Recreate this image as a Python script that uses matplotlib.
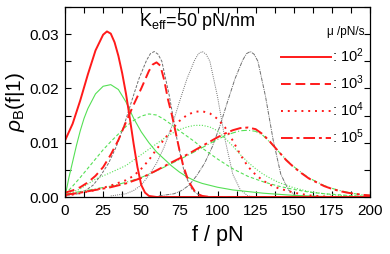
import matplotlib
matplotlib.use("Agg")
import matplotlib.pyplot as plt
from matplotlib.ticker import MultipleLocator

plt.rcParams["font.family"] = ["Liberation Sans", "DejaVu Sans"]
plt.rcParams["mathtext.fontset"] = "custom"
plt.rcParams["mathtext.rm"] = "Liberation Sans"
plt.rcParams["mathtext.it"] = "Liberation Sans:italic"

# force f (pN) and density values, per curve
# red: model curves for the four loading rates
f_red_1 = [0, 5, 10, 15, 20, 25, 27.5, 30, 32.5, 35, 37.5, 40, 42.5, 45, 47.5, 50, 52.5, 55, 57.5, 60, 200]
p_red_1 = [0.0104, 0.0135, 0.0178, 0.0226, 0.0270, 0.0299, 0.0305, 0.0301, 0.0285, 0.0260, 0.0228, 0.0190,
           0.0145, 0.0098, 0.0055, 0.0022, 0.0008, 0.0002, 0.0001, 0.0, 0.0]

f_red_2 = [0, 5, 10, 15, 20, 25, 30, 35, 40, 45, 50, 55, 57.5, 60, 62.5, 65, 67.5, 70, 72.5, 75, 77.5, 80,
           82.5, 85, 87.5, 90, 95, 200]
p_red_2 = [0.0008, 0.0012, 0.0018, 0.0027, 0.0039, 0.0055, 0.0078, 0.0105, 0.0138, 0.0170, 0.0200, 0.0232,
           0.0244, 0.0248, 0.0242, 0.0216, 0.0180, 0.0152, 0.0120, 0.0087, 0.0058, 0.0037, 0.0022, 0.0011,
           0.0005, 0.0002, 0.0, 0.0]

f_red_3 = [0, 10, 20, 30, 40, 45, 50, 55, 60, 65, 70, 75, 80, 85, 90, 95, 100, 105, 110, 115, 120, 125, 130,
           135, 140, 150, 160, 170, 180, 200]
p_red_3 = [0.0002, 0.0007, 0.0013, 0.0021, 0.0031, 0.0039, 0.0052, 0.0068, 0.0088, 0.0106, 0.0124, 0.0140,
           0.0151, 0.0157, 0.0158, 0.0154, 0.0144, 0.0128, 0.0104, 0.0078, 0.0056, 0.0041, 0.0030, 0.0022,
           0.0016, 0.0008, 0.0003, 0.0001, 0.0, 0.0]

f_red_4 = [0, 10, 20, 30, 40, 50, 60, 70, 80, 90, 100, 105, 110, 115, 120, 125, 130, 135, 140, 145, 150, 155,
           160, 165, 170, 175, 180, 185, 190, 195, 200]
p_red_4 = [0.0004, 0.0008, 0.0013, 0.0018, 0.0025, 0.0035, 0.0049, 0.0064, 0.0078, 0.0094, 0.0110, 0.0117,
           0.0123, 0.0127, 0.0128, 0.0125, 0.0115, 0.0100, 0.0084, 0.0068, 0.0055, 0.0044, 0.0034, 0.0027,
           0.0020, 0.0015, 0.0011, 0.0008, 0.0006, 0.0004, 0.0003]

# green: second model, same rates
f_green_1 = [0, 2.5, 5, 7.5, 10, 12.5, 15, 20, 25, 30, 35, 40, 45, 50, 55, 60, 65, 70, 75, 80, 85, 90, 100,
             110, 120, 130, 140, 150, 170, 200]
p_green_1 = [0.0, 0.0035, 0.0065, 0.0095, 0.0122, 0.0145, 0.0163, 0.0190, 0.0204, 0.0207, 0.0198, 0.0175,
             0.0145, 0.0120, 0.0100, 0.0083, 0.0070, 0.0057, 0.0046, 0.0037, 0.0030, 0.0025, 0.0018, 0.0013,
             0.0010, 0.0007, 0.0005, 0.0003, 0.0001, 0.0]

f_green_2 = [0, 5, 10, 15, 20, 25, 30, 35, 40, 45, 50, 55, 60, 65, 70, 75, 80, 85, 90, 95, 100, 110, 120, 130,
             140, 150, 160, 170, 180, 190, 200]
p_green_2 = [0.0005, 0.0020, 0.0036, 0.0053, 0.0070, 0.0087, 0.0102, 0.0116, 0.0130, 0.0141, 0.0149, 0.0153,
             0.0151, 0.0143, 0.0133, 0.0122, 0.0112, 0.0102, 0.0090, 0.0080, 0.0070, 0.0052, 0.0038, 0.0028,
             0.0020, 0.0014, 0.0009, 0.0006, 0.0004, 0.0002, 0.0001]

f_green_3 = [0, 10, 20, 30, 40, 50, 60, 65, 70, 75, 80, 85, 90, 95, 100, 105, 110, 115, 120, 125, 130, 135,
             140, 150, 160, 170, 180, 190, 200]
p_green_3 = [0.0003, 0.0015, 0.0033, 0.0045, 0.0058, 0.0078, 0.0098, 0.0108, 0.0117, 0.0124, 0.0129, 0.0132,
             0.0132, 0.0129, 0.0122, 0.0108, 0.0094, 0.0078, 0.0064, 0.0052, 0.0042, 0.0034, 0.0027, 0.0017,
             0.0010, 0.0006, 0.0003, 0.0002, 0.0001]

f_green_4 = f_red_4
p_green_4 = [0.0005, 0.0010, 0.0015, 0.0020, 0.0027, 0.0036, 0.0048, 0.0062, 0.0076, 0.0091, 0.0106, 0.0113,
             0.0118, 0.0122, 0.0123, 0.0121, 0.0113, 0.0099, 0.0084, 0.0069, 0.0056, 0.0045, 0.0035, 0.0028,
             0.0021, 0.0016, 0.0012, 0.0009, 0.0006, 0.0004, 0.0003]

# gray: three curves of the same shape
p_gray = [0.0002, 0.0004, 0.0006, 0.0012, 0.0022, 0.0040, 0.0062, 0.0092, 0.0130, 0.0175, 0.0218, 0.0252,
          0.0264, 0.0268, 0.0263, 0.0250, 0.0185, 0.0105, 0.0042, 0.0013, 0.0002, 0.0]
f_gray_1 = [-1.5, 3.5, 8.5, 13.5, 18.5, 23.5, 28.5, 33.5, 38.5, 43.5, 48.5, 53.5, 56, 58.5, 61, 63.5, 68.5,
            73.5, 78.5, 83.5, 88.5, 93.5]
f_gray_2 = [30, 35, 40, 45, 50, 55, 60, 65, 70, 75, 80, 85, 87.5, 90, 92.5, 95, 100, 105, 110, 115, 120, 125]
f_gray_3 = [61.5, 66.5, 71.5, 76.5, 81.5, 86.5, 91.5, 96.5, 101.5, 106.5, 111.5, 116.5, 119, 121.5, 124,
            126.5, 131.5, 136.5, 141.5, 146.5, 151.5, 156.5]

rate_labels = [": $10^2$", ": $10^3$", ": $10^4$", ": $10^5$"]

red = "#ff1a1a"
green = "#55e055"
gray = "#707070"

fig = plt.figure(figsize=(3.9, 2.54), dpi=100)
ax = fig.add_axes([0.1667, 0.2244, 0.782, 0.748])

# gray curves
ax.plot(f_gray_1, p_gray, color=gray, lw=0.7, ls=(0, (3, 1.5)))
ax.plot(f_gray_2, p_gray, color=gray, lw=0.7, ls=(0, (1, 1.2)))
ax.plot(f_gray_3, p_gray, color=gray, lw=0.7, ls=(0, (4, 1, 1, 1)))

# green curves
ax.plot(f_green_1, p_green_1, color=green, lw=0.8, ls="-")
ax.plot(f_green_2, p_green_2, color=green, lw=0.8, ls=(0, (3, 2)))
ax.plot(f_green_3, p_green_3, color=green, lw=0.8, ls=(0, (1, 1.5)))
ax.plot(f_green_4, p_green_4, color=green, lw=0.8, ls=(0, (5, 2, 1, 2)))

# red curves
l1, = ax.plot(f_red_1, p_red_1, color=red, lw=1.4, ls="-")
l2, = ax.plot(f_red_2, p_red_2, color=red, lw=1.4, ls=(0, (5, 2.5)))
l3, = ax.plot(f_red_3, p_red_3, color=red, lw=1.4, ls=(0, (1, 2.5)))
l4, = ax.plot(f_red_4, p_red_4, color=red, lw=1.4, ls=(0, (6, 2, 1.5, 2)))

ax.set_xlim(0, 200)
ax.set_ylim(0, 0.035)
ax.xaxis.set_major_locator(MultipleLocator(25))
ax.xaxis.set_minor_locator(MultipleLocator(12.5))
ax.yaxis.set_major_locator(MultipleLocator(0.01))
ax.yaxis.set_minor_locator(MultipleLocator(0.005))
ax.set_yticks([0, 0.01, 0.02, 0.03])
ax.set_yticklabels(["0.00", "0.01", "0.02", "0.03"])
ax.tick_params(which="both", direction="in", top=True, right=True, labelsize=11, pad=4)
ax.tick_params(axis="x", pad=5)
ax.tick_params(which="major", length=4, width=0.8)
ax.tick_params(which="minor", length=4, width=0.8)
for s in ax.spines.values():
    s.set_linewidth(0.9)

ax.set_xlabel("f / pN", fontsize=15.5, labelpad=5)
ax.set_ylabel(r"$\rho_{\rm B}$(f|1)", fontsize=15, labelpad=2)

ax.text(0.433, 0.925, r"K$_{\rm eff}$=50 pN/nm", transform=ax.transAxes,
        ha="center", va="center", fontsize=13)

leg = ax.legend([l1, l2, l3, l4], rate_labels, loc="upper right", bbox_to_anchor=(1.01, 0.945),
                frameon=False, fontsize=10.5, handlelength=3.4, handletextpad=0.1,
                labelspacing=0.58, borderaxespad=0.2, title="μ /pN/s", title_fontsize=8.5,
                alignment="right")

fig.savefig("out.png", dpi=100)
plt.close(fig)
